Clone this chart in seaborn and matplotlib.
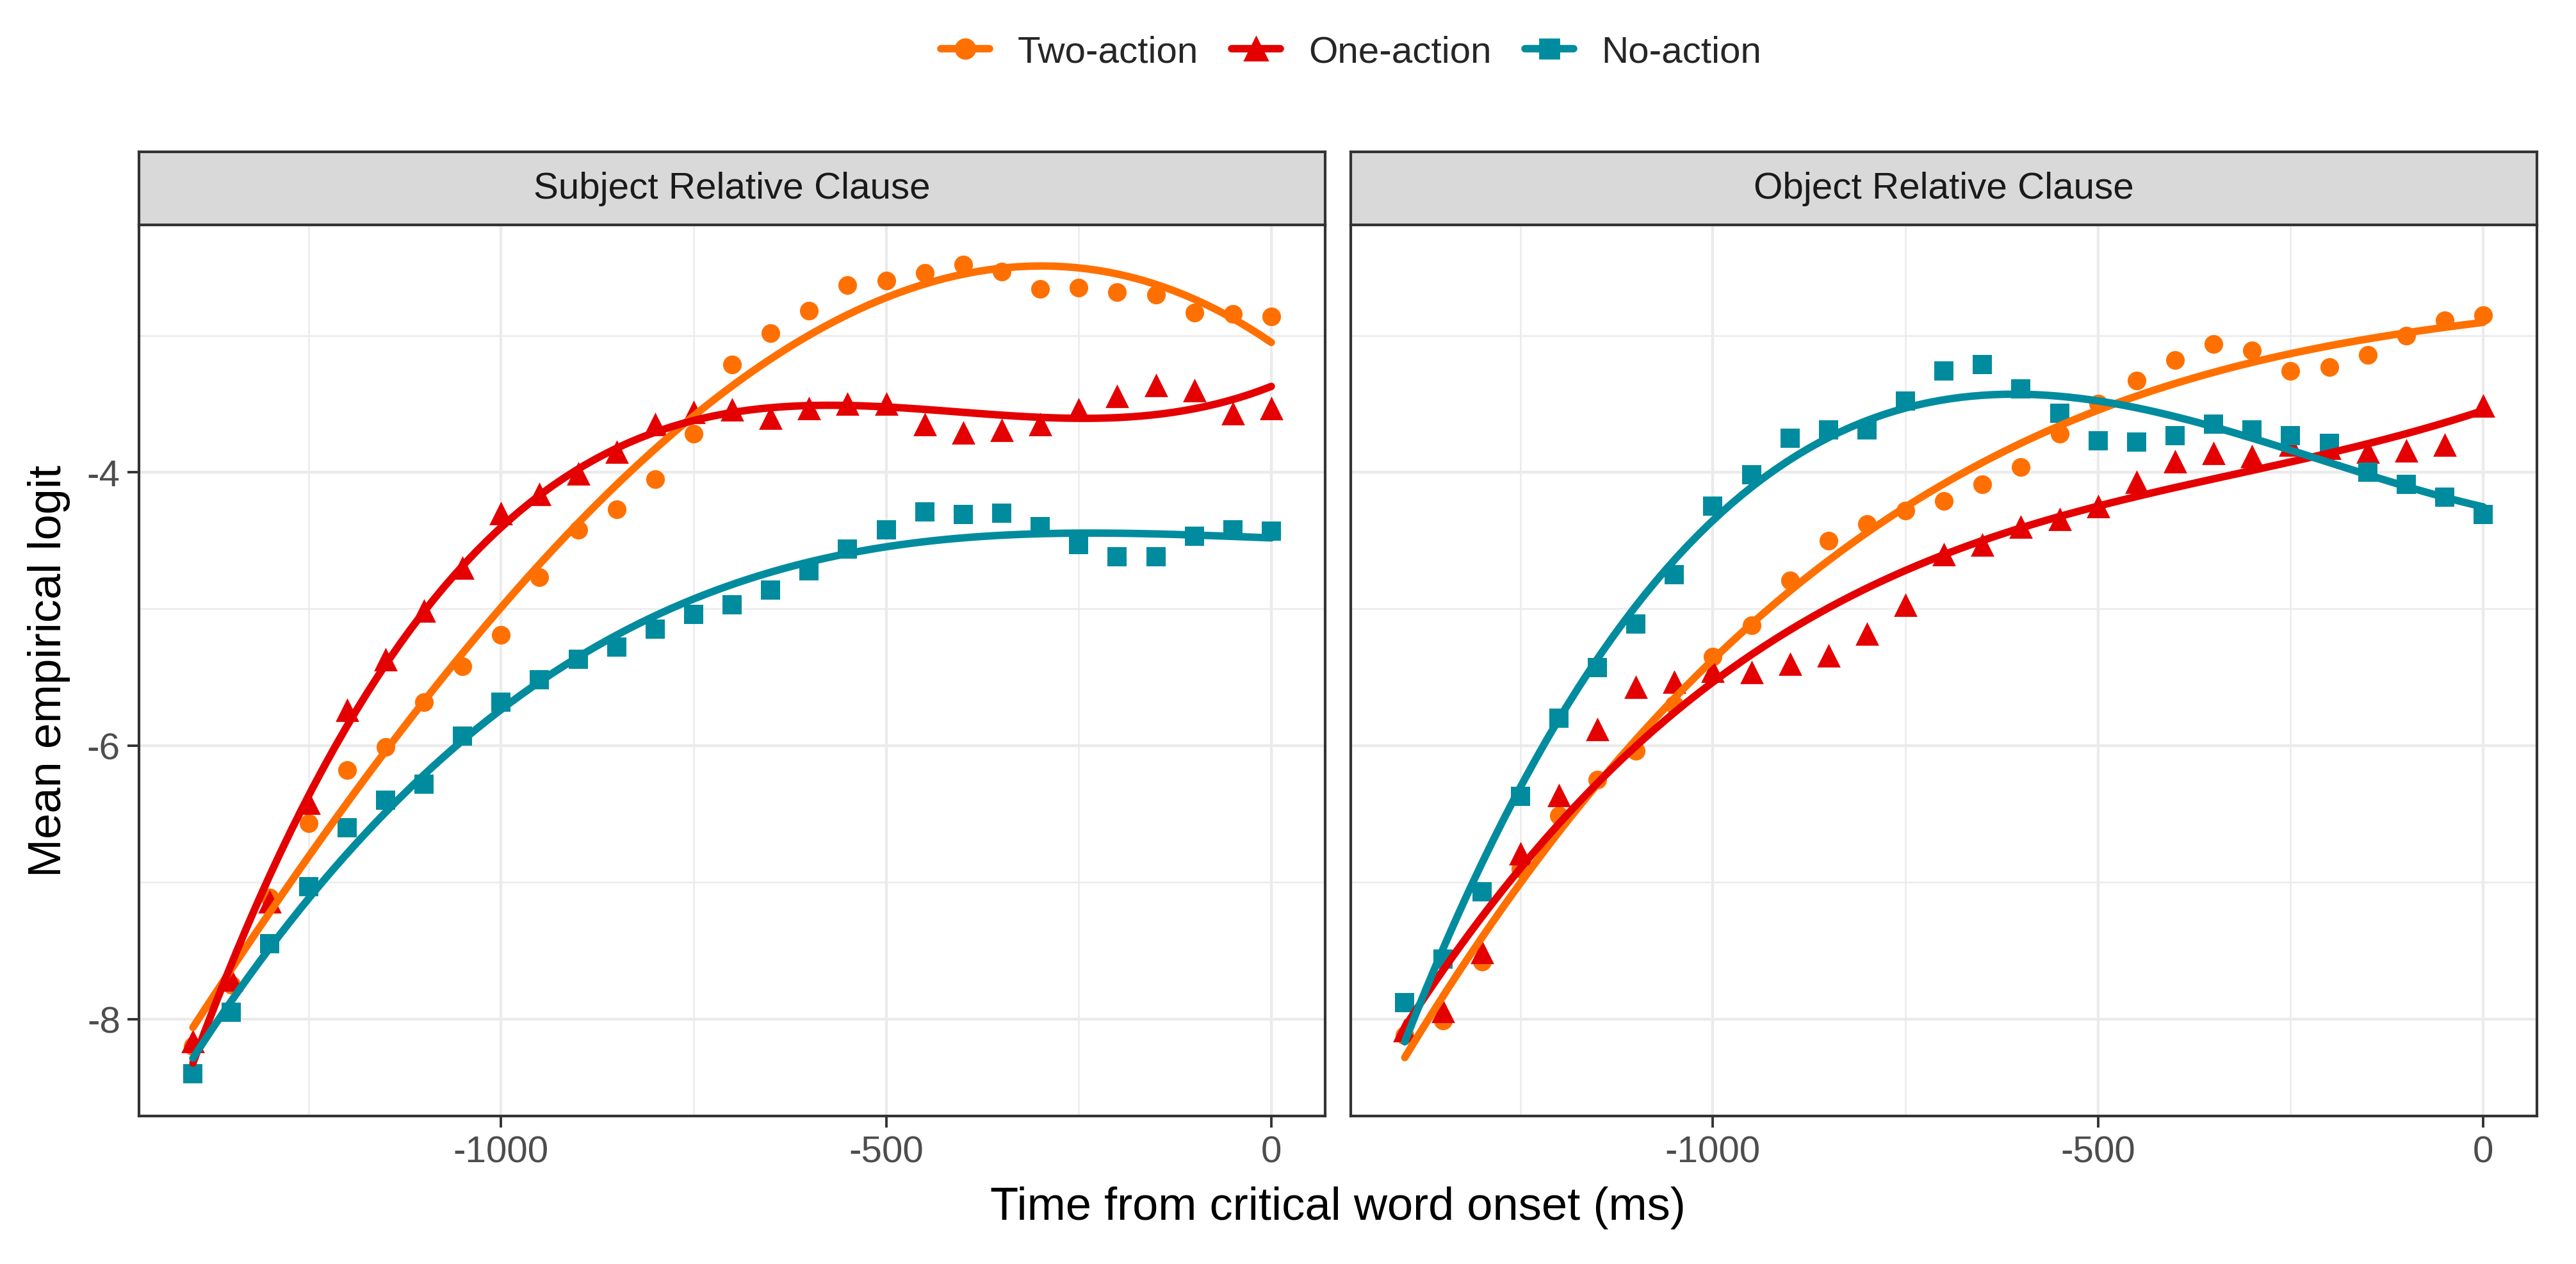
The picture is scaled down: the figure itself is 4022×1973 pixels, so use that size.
import pandas as pd
import matplotlib
matplotlib.use("Agg")
import matplotlib.pyplot as plt
from matplotlib.lines import Line2D
from matplotlib.ticker import MultipleLocator
import seaborn as sns

# time bins (ms before critical word onset)
times = [-1400, -1350, -1300, -1250, -1200, -1150, -1100, -1050, -1000, -950,
         -900, -850, -800, -750, -700, -650, -600, -550, -500, -450,
         -400, -350, -300, -250, -200, -150, -100, -50, 0]

conditions = ["Two-action", "One-action", "No-action"]
panels = ["Subject Relative Clause", "Object Relative Clause"]

# Subject relative clause
src_two = [-8.20, -7.75, -7.11, -6.57, -6.18, -6.01, -5.68, -5.42, -5.19, -4.77,
           -4.42, -4.27, -4.05, -3.72, -3.21, -2.98, -2.82, -2.63, -2.60, -2.54,
           -2.48, -2.53, -2.66, -2.65, -2.68, -2.70, -2.83, -2.84, -2.86]
src_one = [-8.16, -7.71, -7.14, -6.42, -5.74, -5.37, -5.01, -4.70, -4.30, -4.16,
           -4.01, -3.85, -3.65, -3.56, -3.54, -3.60, -3.53, -3.50, -3.50, -3.65,
           -3.71, -3.69, -3.65, -3.54, -3.44, -3.36, -3.40, -3.57, -3.53]
src_no = [-8.40, -7.95, -7.45, -7.03, -6.60, -6.40, -6.28, -5.93, -5.68, -5.52,
          -5.37, -5.28, -5.15, -5.04, -4.97, -4.86, -4.72, -4.56, -4.42, -4.29,
          -4.31, -4.30, -4.40, -4.53, -4.62, -4.62, -4.47, -4.42, -4.43]

# Object relative clause
orc_two = [-8.12, -8.01, -7.58, -6.90, -6.51, -6.25, -6.04, -5.70, -5.35, -5.12,
           -4.79, -4.50, -4.38, -4.28, -4.21, -4.09, -3.96, -3.72, -3.50, -3.33,
           -3.18, -3.06, -3.11, -3.26, -3.23, -3.14, -3.00, -2.89, -2.85]
orc_one = [-8.08, -7.94, -7.51, -6.79, -6.36, -5.88, -5.57, -5.53, -5.45, -5.46,
           -5.40, -5.34, -5.18, -4.97, -4.60, -4.53, -4.40, -4.34, -4.25, -4.07,
           -3.92, -3.86, -3.88, -3.80, -3.82, -3.85, -3.84, -3.80, -3.51]
orc_no = [-7.88, -7.56, -7.07, -6.37, -5.80, -5.43, -5.11, -4.75, -4.25, -4.02,
          -3.75, -3.69, -3.69, -3.48, -3.26, -3.21, -3.39, -3.57, -3.77, -3.78,
          -3.73, -3.65, -3.69, -3.73, -3.79, -4.00, -4.09, -4.18, -4.31]

rows = []
for panel, series in zip(panels, [[src_two, src_one, src_no], [orc_two, orc_one, orc_no]]):
    for cond, vals in zip(conditions, series):
        for t, v in zip(times, vals):
            rows.append({"panel": panel, "condition": cond, "time": t, "elogit": v})
df = pd.DataFrame(rows)

colors = {"Two-action": "#FF7000", "One-action": "#E40000", "No-action": "#008C9E"}
markers = {"Two-action": "o", "One-action": "^", "No-action": "s"}
sizes = {"Two-action": 110, "One-action": 175, "No-action": 110}

sns.set_theme(style="whitegrid")
plt.rcParams["font.family"] = ["Liberation Sans", "DejaVu Sans"]
plt.rcParams["axes.unicode_minus"] = False

fig = plt.figure(figsize=(20.11, 9.87), dpi=200)

ax_w = 0.4605
ax_b = 0.1170
ax_h = 0.7047
lefts = [0.05395, 0.5244]
grid_col = "#EBEBEB"
dark = "#333333"

for i, panel in enumerate(panels):
    ax = fig.add_axes([lefts[i], ax_b, ax_w, ax_h])
    sub = df[df["panel"] == panel]
    for cond in conditions:
        d = sub[sub["condition"] == cond]
        sns.regplot(data=d, x="time", y="elogit", ax=ax, order=3, ci=None,
                    marker=markers[cond], color=colors[cond],
                    scatter_kws={"s": sizes[cond], "linewidths": 0, "alpha": 1, "zorder": 2},
                    line_kws={"lw": 4.2, "zorder": 3})
    ax.set_xlim(-1470, 70)
    ax.set_ylim(-8.71, -2.19)
    ax.set_facecolor("white")
    ax.set_xticks([-1000, -500, 0])
    ax.set_yticks([-8, -6, -4])
    ax.xaxis.set_minor_locator(MultipleLocator(250))
    ax.yaxis.set_minor_locator(MultipleLocator(1))
    ax.grid(which="major", color=grid_col, lw=1.6, zorder=0)
    ax.grid(which="minor", color=grid_col, lw=0.9, zorder=0)
    ax.set_axisbelow(True)
    ax.tick_params(which="minor", length=0)
    ax.tick_params(which="major", labelsize=21, labelcolor="#4D4D4D", color=dark,
                   length=6.5, width=1.4, pad=4)
    ax.tick_params(axis="x", bottom=True)
    ax.tick_params(axis="y", left=(i == 0), labelleft=(i == 0))
    for s in ax.spines.values():
        s.set_color(dark)
        s.set_linewidth(1.5)
        s.set_visible(True)
    ax.set_xlabel("")
    ax.set_ylabel("")

    # facet strip
    strip = fig.add_axes([lefts[i], ax_b + ax_h, ax_w, 0.0578])
    strip.set_facecolor("#D9D9D9")
    strip.set_xticks([])
    strip.set_yticks([])
    strip.grid(False)
    for s in strip.spines.values():
        s.set_color(dark)
        s.set_linewidth(1.5)
        s.set_visible(True)
    strip.text(0.5, 0.5, panel, ha="center", va="center", fontsize=21,
               color="#1A1A1A", transform=strip.transAxes)

fig.text(0.5194, 0.045, "Time from critical word onset (ms)", ha="center",
         va="center", fontsize=26, color="black")
fig.text(0.019, ax_b + ax_h / 2, "Mean empirical logit", ha="center", va="center",
         rotation=90, fontsize=26, color="black")

handles = [Line2D([0], [0], color=colors[c], marker=markers[c], lw=4.2,
                  markersize=11 if c != "One-action" else 13) for c in conditions]
fig.legend(handles, conditions, loc="center", bbox_to_anchor=(0.5245, 0.958),
           ncol=3, frameon=False, fontsize=21, handlelength=1.3,
           handletextpad=0.75, columnspacing=0.9)

fig.savefig("out.png", dpi=200, facecolor="white")
